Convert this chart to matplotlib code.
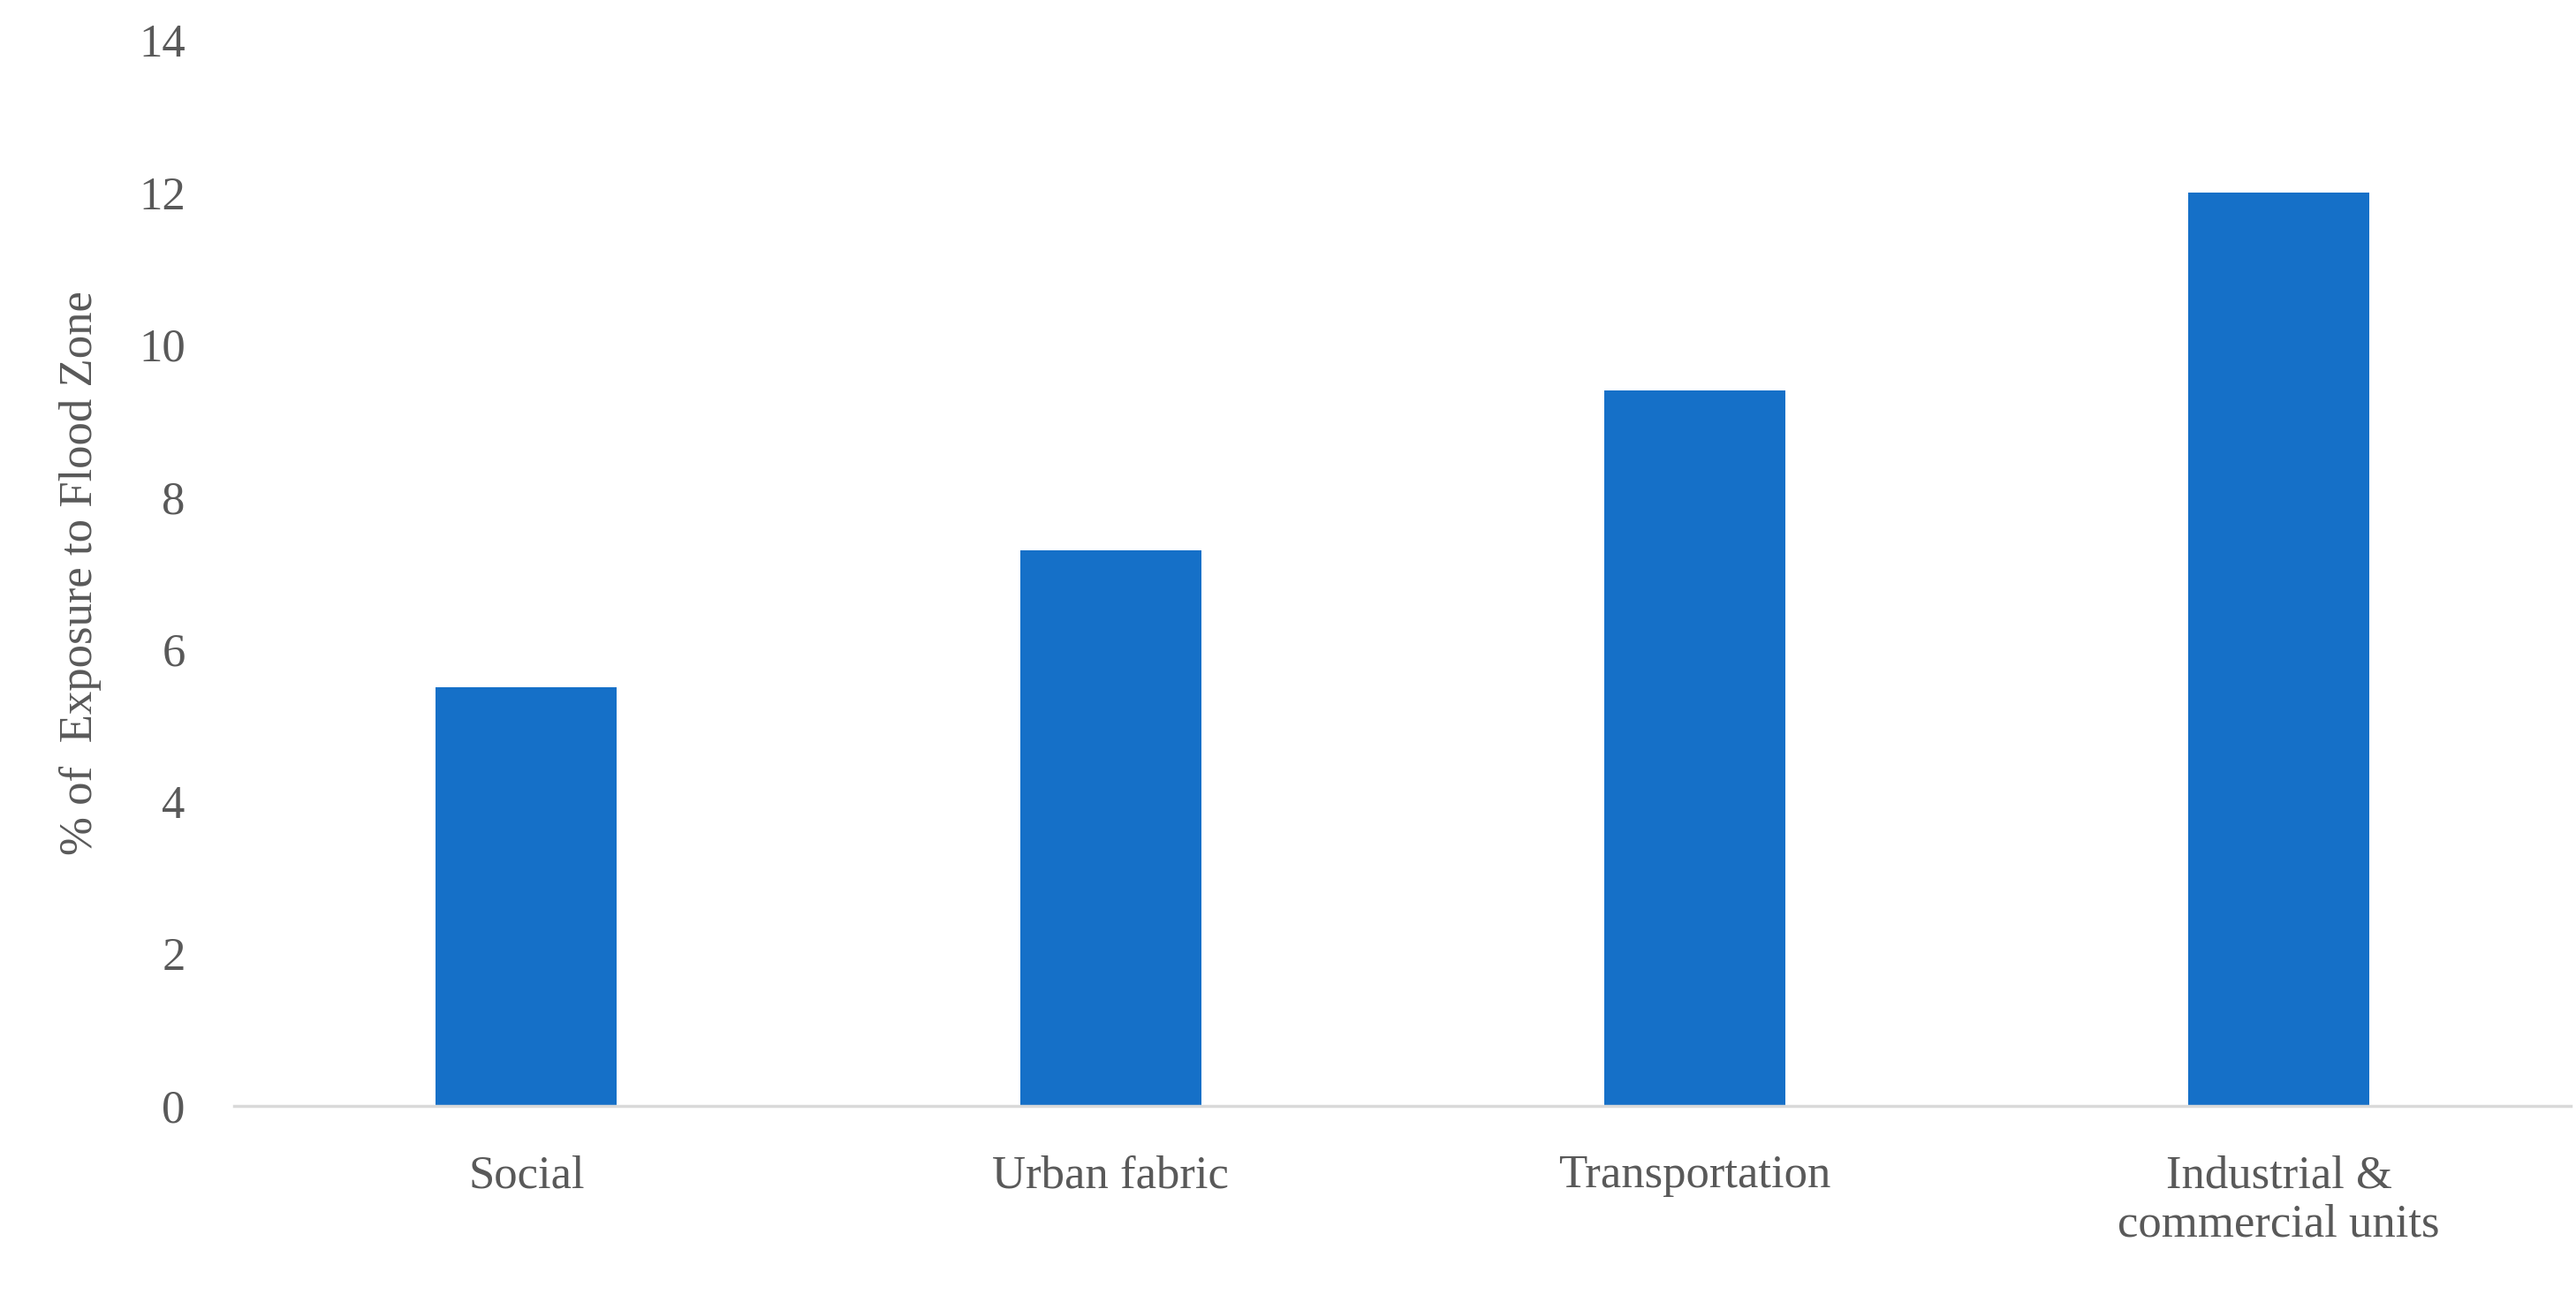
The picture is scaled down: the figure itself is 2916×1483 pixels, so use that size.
import matplotlib
matplotlib.use('Agg')
import matplotlib.pyplot as plt

categories = ['Social', 'Urban fabric', 'Transportation', 'Industrial &\ncommercial units']
exposure = [5.5, 7.3, 9.4, 12.0]
y_ticks = [0, 2, 4, 6, 8, 10, 12, 14]

plt.rcParams['font.family'] = ['Liberation Serif', 'DejaVu Serif']
grey = '#595959'

fig = plt.figure(figsize=(29.16, 14.83), dpi=100)
ax = fig.add_axes([0.091, 0.156, 0.907, 0.813])

ax.bar(range(len(categories)), exposure, width=0.31, color='#1570C8')

ax.set_xlim(-0.5, 3.5)
ax.set_ylim(0, 14)
ax.set_yticks(y_ticks)
ax.set_xticks(range(len(categories)))
ax.set_xticklabels(categories, fontsize=38, color=grey, linespacing=1.2)
ax.tick_params(axis='y', labelsize=38, labelcolor=grey, length=0, pad=40)
ax.tick_params(axis='x', length=0, pad=40)
for s in ['top', 'right', 'left']:
    ax.spines[s].set_visible(False)
ax.spines['bottom'].set_color('#d9d9d9')
ax.spines['bottom'].set_linewidth(2.5)

ax.set_ylabel('% of  Exposure to Flood Zone', fontsize=38, color=grey, labelpad=30)

fig.savefig('out.png', dpi=100)
